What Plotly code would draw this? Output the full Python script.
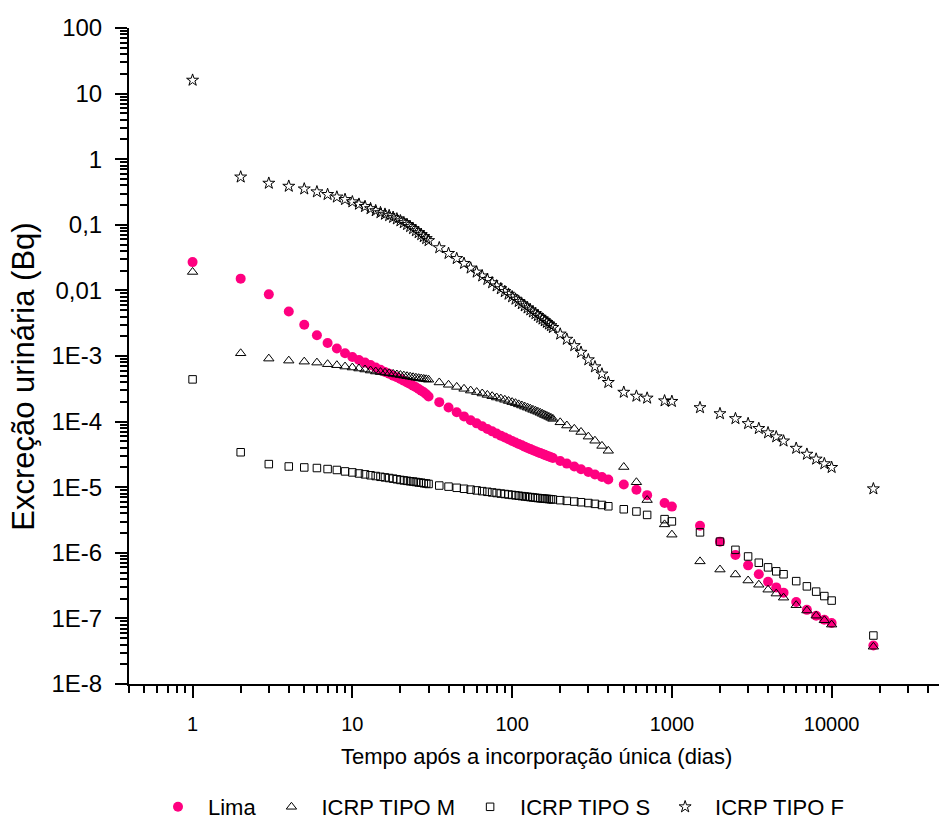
import plotly.graph_objects as go

# Time after single intake (days)
dias = [1, 2, 3, 4, 5, 6, 7, 8, 9, 10,
        11, 12, 13, 14, 15, 16, 17, 18, 19, 20,
        21, 22, 23, 24, 25, 26, 27, 28, 29, 30,
        35, 40, 45, 50, 55, 60, 65, 70, 75, 80,
        85, 90, 95, 100, 105, 110, 115, 120, 125, 130,
        135, 140, 145, 150, 155, 160, 165, 170, 175, 180,
        200, 220, 245, 270, 300, 330, 365, 400,
        500, 600, 700, 900, 1000, 1500, 2000, 2500, 3000, 3500,
        4000, 4500, 5000, 6000, 7000, 8000, 9000, 10000, 18250]

# Urinary excretion (Bq)
lima = [2.70e-2, 1.51e-2, 8.70e-3, 4.76e-3, 3.00e-3, 2.07e-3, 1.58e-3, 1.30e-3, 1.10e-3, 9.66e-4,
        8.70e-4, 7.93e-4, 7.30e-4, 6.67e-4, 6.15e-4, 5.69e-4, 5.37e-4, 5.01e-4, 4.73e-4, 4.46e-4,
        4.20e-4, 3.96e-4, 3.74e-4, 3.53e-4, 3.33e-4, 3.14e-4, 2.96e-4, 2.80e-4, 2.61e-4, 2.41e-4,
        1.98e-4, 1.64e-4, 1.39e-4, 1.20e-4, 1.05e-4, 9.40e-5, 8.47e-5, 7.73e-5, 7.10e-5, 6.56e-5,
        6.11e-5, 5.71e-5, 5.37e-5, 5.07e-5, 4.80e-5, 4.56e-5, 4.35e-5, 4.15e-5, 3.97e-5, 3.81e-5,
        3.66e-5, 3.54e-5, 3.42e-5, 3.31e-5, 3.21e-5, 3.11e-5, 3.02e-5, 2.94e-5, 2.86e-5, 2.78e-5,
        2.51e-5, 2.29e-5, 2.07e-5, 1.88e-5, 1.70e-5, 1.56e-5, 1.43e-5, 1.31e-5,
        1.10e-5, 9.12e-6, 7.57e-6, 5.73e-6, 5.06e-6, 2.58e-6, 1.48e-6, 9.23e-7, 6.44e-7, 4.71e-7,
        3.62e-7, 2.97e-7, 2.47e-7, 1.78e-7, 1.35e-7, 1.10e-7, 9.55e-8, 8.51e-8, 3.87e-8]

icrp_m = [1.91e-2, 1.10e-3, 9.12e-4, 8.50e-4, 8.20e-4, 7.93e-4, 7.50e-4, 7.24e-4, 6.90e-4, 6.67e-4,
          6.44e-4, 6.22e-4, 6.00e-4, 5.80e-4, 5.68e-4, 5.56e-4, 5.45e-4, 5.33e-4, 5.22e-4, 5.12e-4,
          5.02e-4, 4.92e-4, 4.83e-4, 4.74e-4, 4.66e-4, 4.59e-4, 4.53e-4, 4.47e-4, 4.41e-4, 4.35e-4,
          3.95e-4, 3.64e-4, 3.38e-4, 3.16e-4, 2.97e-4, 2.82e-4, 2.68e-4, 2.55e-4, 2.44e-4, 2.33e-4,
          2.24e-4, 2.15e-4, 2.06e-4, 1.98e-4, 1.91e-4, 1.83e-4, 1.76e-4, 1.69e-4, 1.63e-4, 1.57e-4,
          1.51e-4, 1.46e-4, 1.41e-4, 1.36e-4, 1.31e-4, 1.26e-4, 1.22e-4, 1.18e-4, 1.14e-4, 1.10e-4,
          9.75e-5, 8.71e-5, 7.76e-5, 6.95e-5, 5.90e-5, 5.11e-5, 4.26e-5, 3.59e-5,
          2.03e-5, 1.19e-5, 6.37e-6, 2.71e-6, 1.89e-6, 7.40e-7, 5.55e-7, 4.67e-7, 3.78e-7, 3.26e-7,
          2.74e-7, 2.39e-7, 2.07e-7, 1.59e-7, 1.32e-7, 1.10e-7, 9.35e-8, 8.04e-8, 3.70e-8]

icrp_s = [4.40e-4, 3.41e-5, 2.25e-5, 2.07e-5, 2.00e-5, 1.96e-5, 1.89e-5, 1.83e-5, 1.74e-5, 1.68e-5,
          1.62e-5, 1.57e-5, 1.52e-5, 1.48e-5, 1.44e-5, 1.41e-5, 1.38e-5, 1.35e-5, 1.32e-5, 1.29e-5,
          1.27e-5, 1.25e-5, 1.23e-5, 1.22e-5, 1.20e-5, 1.18e-5, 1.17e-5, 1.15e-5, 1.14e-5, 1.12e-5,
          1.06e-5, 1.02e-5, 9.79e-6, 9.46e-6, 9.18e-6, 8.93e-6, 8.71e-6, 8.51e-6, 8.32e-6, 8.15e-6,
          8.00e-6, 7.87e-6, 7.74e-6, 7.62e-6, 7.52e-6, 7.41e-6, 7.31e-6, 7.23e-6, 7.14e-6, 7.06e-6,
          6.98e-6, 6.90e-6, 6.84e-6, 6.78e-6, 6.73e-6, 6.68e-6, 6.64e-6, 6.59e-6, 6.55e-6, 6.50e-6,
          6.34e-6, 6.19e-6, 6.04e-6, 5.90e-6, 5.74e-6, 5.57e-6, 5.36e-6, 5.12e-6,
          4.61e-6, 4.26e-6, 3.78e-6, 3.26e-6, 3.01e-6, 2.05e-6, 1.48e-6, 1.11e-6, 8.79e-7, 7.06e-7,
          6.00e-7, 5.22e-7, 4.71e-7, 3.70e-7, 3.08e-7, 2.56e-7, 2.19e-7, 1.87e-7, 5.48e-8]

icrp_f = [16.0, 0.535, 0.430, 0.387, 0.352, 0.318, 0.290, 0.265, 0.243, 0.224,
          0.206, 0.190, 0.176, 0.164, 0.153, 0.145, 0.138, 0.130, 0.123, 0.115,
          0.108, 0.101, 0.0940, 0.0875, 0.0813, 0.0759, 0.0708, 0.0661, 0.0617, 0.0574,
          0.0447, 0.0366, 0.0306, 0.0258, 0.0219, 0.0190, 0.0166, 0.0147, 0.0131, 0.0117,
          0.0106, 0.00959, 0.00875, 0.00800, 0.00735, 0.00678, 0.00627, 0.00581, 0.00540, 0.00504,
          0.00470, 0.00441, 0.00413, 0.00388, 0.00366, 0.00344, 0.00325, 0.00307, 0.00290, 0.00272,
          0.00216, 0.00180, 0.00144, 0.00114, 8.75e-4, 6.84e-4, 5.31e-4, 3.95e-4,
          2.80e-4, 2.44e-4, 2.28e-4, 2.07e-4, 2.03e-4, 1.63e-4, 1.32e-4, 1.11e-4, 9.33e-5, 7.85e-5,
          6.75e-5, 5.86e-5, 5.06e-5, 3.92e-5, 3.18e-5, 2.68e-5, 2.28e-5, 2.00e-5, 9.44e-6]

# Axis tick labels
x_tickvals = [1, 10, 100, 1000, 10000]
x_ticktext = ["1", "10", "100", "1000", "10000"]
y_tickvals = [1e-8, 1e-7, 1e-6, 1e-5, 1e-4, 1e-3, 1e-2, 1e-1, 1, 10, 100]
y_ticktext = ["1E-8", "1E-7", "1E-6", "1E-5", "1E-4", "1E-3", "0,01", "0,1", "1", "10", "100"]

x_minor = [m * 10.0 ** e for e in range(-1, 5) for m in range(2, 10)]
x_minor = [v for v in x_minor if v >= 0.4]
y_minor = [m * 10.0 ** e for e in range(-8, 2) for m in range(2, 10)]

FONT = "Liberation Sans, Arial, Helvetica, sans-serif"
PINK = "#ff0080"

fig = go.Figure()
fig.add_trace(go.Scatter(
    x=dias, y=lima, mode="markers", name="Lima",
    marker=dict(symbol="circle", size=10, color=PINK, line=dict(width=0)),
))
fig.add_trace(go.Scatter(
    x=dias, y=icrp_m, mode="markers", name="ICRP TIPO M",
    marker=dict(symbol="triangle-up-open", size=9, color="black", line=dict(width=1, color="black")),
))
fig.add_trace(go.Scatter(
    x=dias, y=icrp_s, mode="markers", name="ICRP TIPO S",
    marker=dict(symbol="square-open", size=7.5, color="black", line=dict(width=1, color="black")),
))
fig.add_trace(go.Scatter(
    x=dias, y=icrp_f, mode="markers", name="ICRP TIPO F",
    marker=dict(symbol="star-open", size=9, color="black", line=dict(width=1, color="black")),
))

L, T, B, R = 129, 28, 136, 0
W, H = 939, 828
plot_w = W - L - R
plot_h = H - T - B

fig.update_layout(
    width=W, height=H,
    margin=dict(l=L, r=R, t=T, b=B, pad=0),
    paper_bgcolor="white", plot_bgcolor="white",
    font=dict(family=FONT, color="black"),
    showlegend=True,
    legend=dict(
        orientation="h", x=(148 - L) / plot_w, xanchor="left",
        y=-(817 - (T + plot_h)) / plot_h, yanchor="middle",
        font=dict(size=22, family=FONT, color="black"),
        itemwidth=50, bgcolor="rgba(0,0,0,0)", borderwidth=0,
        traceorder="normal",
    ),
    xaxis=dict(
        type="log", range=[-0.398, 4.672],
        showline=True, linecolor="black", linewidth=2,
        showgrid=False, zeroline=False, mirror=False,
        ticks="outside", ticklen=12, tickwidth=2, tickcolor="black",
        tickmode="array", tickvals=x_tickvals, ticktext=x_ticktext,
        tickfont=dict(size=20, family=FONT, color="black"),
        ticklabelstandoff=9,
        minor=dict(tickmode="array", tickvals=x_minor, ticks="outside",
                   ticklen=7, tickwidth=2, tickcolor="black", showgrid=False),
    ),
    yaxis=dict(
        type="log", range=[-8, 2],
        showline=True, linecolor="black", linewidth=2,
        showgrid=False, zeroline=False, mirror=False,
        ticks="outside", ticklen=12, tickwidth=2, tickcolor="black",
        tickmode="array", tickvals=y_tickvals, ticktext=y_ticktext,
        tickfont=dict(size=24, family=FONT, color="black"),
        ticklabelstandoff=8,
        minor=dict(tickmode="array", tickvals=y_minor, ticks="outside",
                   ticklen=7, tickwidth=2, tickcolor="black", showgrid=False),
    ),
    annotations=[
        dict(text="Tempo após a incorporação única (dias)", xref="paper", yref="paper",
             x=(536 - L) / plot_w, y=0, xanchor="center", yanchor="middle",
             yshift=-(764 - (T + plot_h)), showarrow=False,
             font=dict(size=22, family=FONT, color="black")),
        dict(text="Excreção urinária (Bq)", xref="paper", yref="paper",
             x=0, y=((T + plot_h) - 381) / plot_h, xanchor="center", yanchor="middle",
             xshift=24 - L, textangle=-90, showarrow=False,
             font=dict(size=31, family=FONT, color="black")),
    ],
)

fig.write_html("out.html")
